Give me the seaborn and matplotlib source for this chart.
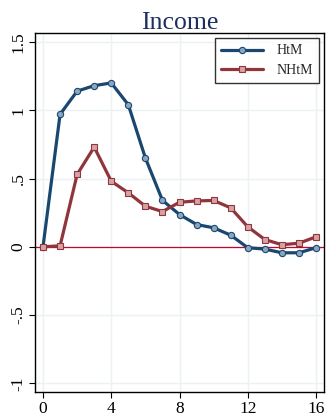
import pandas as pd
import matplotlib.pyplot as plt
import seaborn as sns
import numpy as np

horizon = list(range(17))
htm = [0.0, 0.97, 1.14, 1.18, 1.20, 1.04, 0.65, 0.34, 0.236, 0.163, 0.139, 0.085,
       -0.007, -0.017, -0.044, -0.044, -0.007]
nhtm = [0.0, 0.007, 0.53, 0.73, 0.48, 0.395, 0.297, 0.258, 0.326, 0.336, 0.339, 0.285,
        0.146, 0.053, 0.015, 0.026, 0.073]
yticks = [-1, -0.5, 0, 0.5, 1, 1.5]
ytick_labels = ['-1', '-.5', '0', '.5', '1', '1.5']
xticks = [0, 4, 8, 12, 16]

df = pd.DataFrame({
    'h': horizon * 2,
    'value': htm + nhtm,
    'group': ['HtM'] * len(horizon) + ['NHtM'] * len(horizon),
})

sns.set_style('white')
plt.rcParams['font.family'] = ['Liberation Serif', 'DejaVu Serif']

fig = plt.figure(figsize=(3.27, 4.19), dpi=100)
ax = fig.add_axes([0.107, 0.064, 0.884, 0.857])

colors = {'HtM': '#1a476f', 'NHtM': '#90353b'}
faces = {'HtM': '#8aa6c0', 'NHtM': '#d4a3a6'}
markers = {'HtM': 'o', 'NHtM': 's'}

ax.axhline(0, color='#c10534', lw=0.9, zorder=1)
for name in ['HtM', 'NHtM']:
    sub = df[df['group'] == name]
    sns.lineplot(data=sub, x='h', y='value', ax=ax, color=colors[name], lw=2.3,
                 marker=markers[name], markersize=4.5, markerfacecolor=faces[name],
                 markeredgecolor=colors[name], markeredgewidth=0.8, label=name,
                 zorder=3)

ax.set_xlim(-0.47, 16.47)
ax.set_ylim(-1.065, 1.565)
ax.set_xticks(xticks)
ax.set_xticklabels([str(x) for x in xticks])
ax.set_yticks(yticks)
ax.set_yticklabels(ytick_labels, rotation=90, va='center')
ax.grid(True, color='#eaf2f3', lw=1)
ax.set_axisbelow(True)
ax.tick_params(axis='both', direction='out', length=4, width=0.8, color='black',
               labelsize=12.5, labelcolor='black', pad=2, left=True, bottom=True)
for s in ax.spines.values():
    s.set_color('black')
    s.set_linewidth(1)
ax.set_xlabel('')
ax.set_ylabel('')
ax.set_title('Income', fontsize=18.5, color='#1e2f5e', pad=3)

leg = ax.legend(loc='upper right', frameon=True, fancybox=False, edgecolor='black',
                fontsize=10, handlelength=3.0, borderpad=0.45, labelspacing=0.45,
                handletextpad=1.0, borderaxespad=0, bbox_to_anchor=(0.983, 0.986))
leg.get_frame().set_linewidth(1)

fig.savefig('out.png', dpi=100)
plt.close()
